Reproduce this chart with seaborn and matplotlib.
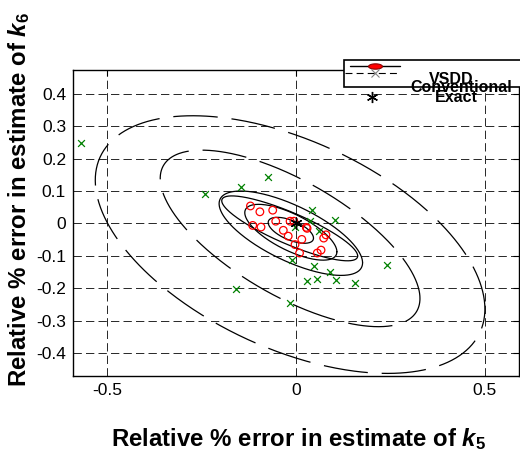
import numpy as np
import matplotlib
matplotlib.use('Agg')
import matplotlib.pyplot as plt
from matplotlib.lines import Line2D
from matplotlib.patches import Rectangle
from matplotlib.path import Path
import seaborn as sns

# relative % errors
vsdd_k5 = [-0.121, -0.096, -0.062, -0.054, -0.115, -0.093, -0.034, -0.021, -0.016, -0.006,
           0.029, 0.027, 0.015, -0.003, 0.009, 0.056, 0.066, 0.073, 0.079]
vsdd_k6 = [0.054, 0.036, 0.041, 0.007, -0.006, -0.011, -0.021, -0.039, 0.007, 0.007,
           -0.015, -0.012, -0.049, -0.065, -0.091, -0.091, -0.082, -0.045, -0.035]

conv_k5 = [-0.571, -0.242, -0.145, -0.075, 0.041, 0.104, 0.038, 0.061, -0.011, 0.048,
           0.089, 0.055, 0.029, 0.106, 0.157, 0.241, -0.160, -0.017, -0.002]
conv_k6 = [0.249, 0.090, 0.111, 0.143, 0.043, 0.010, 0.009, -0.024, -0.113, -0.132,
           -0.149, -0.171, -0.177, -0.173, -0.184, -0.129, -0.201, -0.246, -0.010]

exact_k5 = [0.0]
exact_k6 = [0.0]

# confidence contours: centre, half extents along k5 / k6, correlation
ell_cx = [-0.014, -0.014, -0.017, -0.014, -0.016, -0.016]
ell_cy = [-0.021, -0.027, -0.015, -0.030, -0.046, -0.065]
ell_hx = [0.060, 0.122, 0.180, 0.190, 0.344, 0.516]
ell_hy = [0.040, 0.086, 0.100, 0.130, 0.272, 0.397]
ell_rho = [-0.60, -0.70, -0.85, -0.70, -0.68, -0.50]
n_solid = 4

x_ticks = [-0.5, 0, 0.5]
x_ticklabels = ['-0.5', '0', '0.5']
y_ticks = [-0.4, -0.3, -0.2, -0.1, 0, 0.1, 0.2, 0.3, 0.4]
y_ticklabels = ['-0.4', '-0.3', '-0.2', '-0.1', '0', '0.1', '0.2', '0.3', '0.4']
legend_labels = ['VSDD', 'Conventional', 'Exact']

sns.set_style('white')
plt.rcParams['font.family'] = ['Liberation Sans', 'DejaVu Sans']
plt.rcParams['mathtext.fontset'] = 'custom'
plt.rcParams['mathtext.it'] = 'Liberation Sans:italic:bold'
plt.rcParams['mathtext.rm'] = 'Liberation Sans:bold'
plt.rcParams['mathtext.bf'] = 'Liberation Sans:bold'
plt.rcParams['lines.scale_dashes'] = False
for key in ['text.color', 'axes.labelcolor', 'xtick.color', 'ytick.color', 'axes.edgecolor']:
    plt.rcParams[key] = 'k'

W, H = 520, 459
def px(x, y):
    return x / W, 1 - y / H

fig = plt.figure(figsize=(5.2, 4.59), dpi=100)
ax = fig.add_axes([73 / W, 1 - 376 / H, (518.5 - 73) / W, (376 - 70) / H])

t = np.linspace(0, 2 * np.pi, 500)
for i in range(len(ell_cx)):
    ex = ell_cx[i] + ell_hx[i] * np.cos(t)
    ey = ell_cy[i] + ell_hy[i] * (ell_rho[i] * np.cos(t) + np.sqrt(1 - ell_rho[i] ** 2) * np.sin(t))
    ls = '-' if i < n_solid else (0, (32, 10))
    ax.plot(ex, ey, color='k', lw=0.9, ls=ls, zorder=2)

sns.scatterplot(x=conv_k5, y=conv_k6, marker='x', color=(0, 0.5, 0), s=24, linewidth=0.9, ax=ax, zorder=3)
sns.scatterplot(x=vsdd_k5, y=vsdd_k6, marker='o', s=30, facecolor='none', edgecolor='red',
                linewidth=0.9, ax=ax, zorder=4)
sns.scatterplot(x=exact_k5, y=exact_k6, marker=(6, 2, 0), color='k', s=60, linewidth=1.0, ax=ax, zorder=5)

ax.set_xlim(-0.591, 0.589)
ax.set_ylim(-0.470, 0.473)
ax.set_xticks(x_ticks)
ax.set_xticklabels(x_ticklabels)
ax.set_yticks(y_ticks)
ax.set_yticklabels(y_ticklabels)
ax.tick_params(direction='in', length=4, width=0.8, top=True, right=True,
               labelsize=12.5, colors='k', pad=5)
ax.grid(True, ls=(0, (6, 3)), color='0.15', lw=0.7)
ax.set_axisbelow(True)
for sp in ax.spines.values():
    sp.set_color('k')
    sp.set_linewidth(1.0)

ax.set_xlabel(r'Relative % error in estimate of $k_5$', fontsize=17.3, fontweight='bold')
ax.set_ylabel(r'Relative % error in estimate of $k_6$', fontsize=17.3, fontweight='bold')
ax.xaxis.set_label_coords(0.507, -0.163)
ax.yaxis.set_label_coords(-0.093, 0.578)

# legend drawn by hand, MATLAB style (box runs off the figure, labels crowd together)
fig.add_artist(Rectangle(px(344, 87), 190 / W, 27 / H, transform=fig.transFigure,
                         facecolor='white', edgecolor='k', lw=1.2, zorder=10))
ell_t = np.linspace(0, 2 * np.pi, 40)
ell_marker = Path(np.column_stack([1.3 * np.cos(ell_t), 0.5 * np.sin(ell_t)]))
x0, y0 = px(350, 65.7)
x1, _ = px(400, 65.7)
fig.add_artist(Line2D([x0, x1], [y0, y0], transform=fig.transFigure, color='k', lw=1, zorder=11))
fig.add_artist(Line2D([px(375, 0)[0]], [y0], transform=fig.transFigure, marker=ell_marker, ms=10,
                      mfc='red', mec='darkred', mew=0.8, ls='none', zorder=12))
x0, y1 = px(345, 73.3)
fig.add_artist(Line2D([x0, x1], [y1, y1], transform=fig.transFigure, color='k', lw=0.8,
                      ls=(0, (5, 3)), zorder=11))
fig.add_artist(Line2D([px(375, 0)[0]], [y1], transform=fig.transFigure, marker='x', ms=6,
                      mec='0.5', mew=0.8, ls='none', zorder=12))
ax_, ay_ = px(371.7, 96.7)
fig.add_artist(Line2D([ax_], [ay_], transform=fig.transFigure, marker=(6, 2, 0), ms=8,
                      mec='k', mew=1.0, ls='none', zorder=12))
for lab, (lx, ly) in zip(legend_labels, [(451.5, 80), (461, 88), (456, 97)]):
    fx, fy = px(lx, ly)
    fig.text(fx, fy, lab, ha='center', va='center', fontsize=11.5, fontweight='bold', zorder=13)

fig.savefig('out.png', dpi=100)
